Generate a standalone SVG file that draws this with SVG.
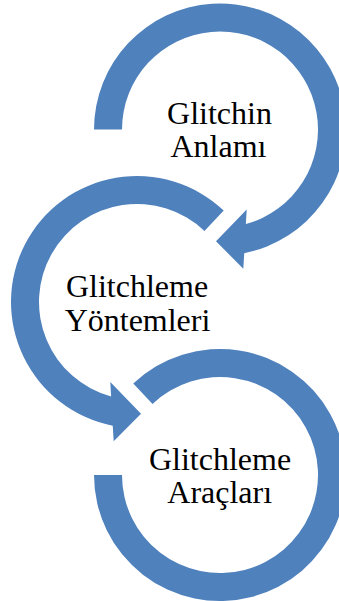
<svg xmlns="http://www.w3.org/2000/svg" width="339" height="601" viewBox="0 0 339 601">
<style>
.arc{fill:#4F81BD;stroke:none}
.lbl{font-family:"Liberation Serif","Times New Roman",serif;font-size:32px;fill:#000;text-anchor:middle}
</style>
<rect width="339" height="601" fill="#fff"/>
<g id="connectors">
</g>
<g id="node1">
<path class="arc" d="M94,129.5 A126,126 0 1 1 244.26,253.14 L243.3,268.8 L216,241.2 L246.7,209.5 L245.87,224.03 A98,98 0 1 0 122,129.5 Z"/>
<text class="lbl" x="219.5" y="124">Glitchin</text>
<text class="lbl" x="218.5" y="157">Anlamı</text>
</g>
<g id="node2">
<path class="arc" d="M223.73,210.6 A126,126 0 1 0 112.74,425.64 L113.7,441.3 L141,413.7 L110.3,382 L111.13,396.53 A98,98 0 1 1 204.46,230.92 Z"/>
<text class="lbl" x="137" y="296.7">Glitchleme</text>
<text class="lbl" x="137.5" y="330.7">Yöntemleri</text>
</g>
<g id="node3">
<path class="arc" d="M133.27,383.6 A126,126 0 1 1 94,475 L122,475 A98,98 0 1 0 152.54,403.92 Z"/>
<text class="lbl" x="220" y="470">Glitchleme</text>
<text class="lbl" x="219.7" y="503.3">Araçları</text>
</g>
</svg>
